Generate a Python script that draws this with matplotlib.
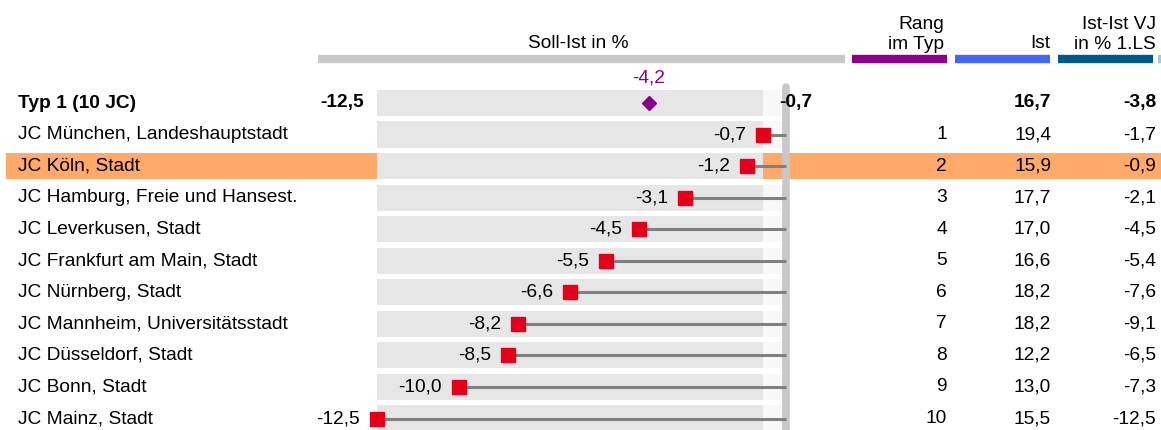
import matplotlib.pyplot as plt
from matplotlib.transforms import blended_transform_factory

plt.rcParams['font.family'] = ['Liberation Sans', 'DejaVu Sans']

# --- data ---
names = ["JC München, Landeshauptstadt", "JC Köln, Stadt", "JC Hamburg, Freie und Hansest.",
         "JC Leverkusen, Stadt", "JC Frankfurt am Main, Stadt", "JC Nürnberg, Stadt",
         "JC Mannheim, Universitätsstadt", "JC Düsseldorf, Stadt", "JC Bonn, Stadt", "JC Mainz, Stadt"]
soll_ist = [-0.7, -1.2, -3.1, -4.5, -5.5, -6.6, -8.2, -8.5, -10.0, -12.5]
rang = [1, 2, 3, 4, 5, 6, 7, 8, 9, 10]
ist = [19.4, 15.9, 17.7, 17.0, 16.6, 18.2, 18.2, 12.2, 13.0, 15.5]
ist_vj = [-1.7, -0.9, -2.1, -4.5, -5.4, -7.6, -9.1, -6.5, -7.3, -12.5]
highlight = "JC Köln, Stadt"

typ_label = "Typ 1 (10 JC)"
typ_avg = -4.2
typ_ist = 16.7
typ_vj = -3.8

headers = ["Soll-Ist in %", "Rang\nim Typ", "Ist", "Ist-Ist VJ\nin % 1.LS"]

def fmt(v):
    return f"{v:.1f}".replace(".", ",")

W, H = 1161, 430
PX = 32.7       # pixel per Prozentpunkt
X0 = 786        # Pixelposition der Null
ROW = 31.55
Y0 = 103

fig = plt.figure(figsize=(W / 100, H / 100), dpi=100)
ax = fig.add_axes([0, 0, 1, 1])
ax.set_xlim(-X0 / PX, (W - X0) / PX)
ax.set_ylim((H - Y0) / ROW, -Y0 / ROW)
ax.axis('off')

tr = blended_transform_factory(ax.transAxes, ax.transData)
fx = lambda px: px / W

vmin, vmax = min(soll_ist), max(soll_ist)
n = len(names)
FS = 13.8

# Zeilen: 0 = Typ, 1..n = JC
for i in range(n + 1):
    y = i
    hl = i > 0 and names[i - 1] == highlight
    if hl:
        ax.axhspan(y - 0.42, y + 0.42, xmin=fx(6), xmax=1, color='#ffa96b', zorder=0, lw=0)
    ax.barh(y, vmax - vmin, left=vmin, height=0.83, color='#e6e6e6', zorder=1, lw=0)
    if not hl:
        ax.barh(y, 0 - vmax, left=vmax, height=0.83, color='#f8f8f8', zorder=1, lw=0)

# Nulllinie
ax.plot([0, 0], [-0.52, n + 1], color='#c8c8c8', lw=5.5, solid_capstyle='round', zorder=2)

# Typ-Zeile
ax.text(fx(18), 0, typ_label, transform=tr, ha='left', va='center', fontsize=FS, fontweight='bold')
ax.text(vmin - 0.4, 0, fmt(vmin), ha='right', va='center', fontsize=FS, fontweight='bold')
ax.text(vmax + 0.5, 0, fmt(vmax), ha='left', va='center', fontsize=FS, fontweight='bold', zorder=5)
ax.plot([typ_avg], [0], marker='D', color='#8b008b', ms=7, zorder=4)
ax.text(typ_avg, -0.8, fmt(typ_avg), ha='center', va='center', fontsize=FS, color='#8b008b')
ax.text(fx(1051), 0, fmt(typ_ist), transform=tr, ha='right', va='center', fontsize=FS, fontweight='bold')
ax.text(fx(1156), 0, fmt(typ_vj), transform=tr, ha='right', va='center', fontsize=FS, fontweight='bold')

# JC-Zeilen
for i in range(n):
    y = i + 1
    v = soll_ist[i]
    ax.plot([v, 0], [y, y], color='#808080', lw=2.2, zorder=3, solid_capstyle='butt')
    ax.plot([v], [y], marker='s', color='#e2001a', ms=9.4, zorder=4, ls='none')
    ax.text(v - 0.52, y, fmt(v), ha='right', va='center', fontsize=FS, zorder=5)
    ax.text(fx(18), y, names[i], transform=tr, ha='left', va='center', fontsize=FS)
    ax.text(fx(947), y, str(rang[i]), transform=tr, ha='right', va='center', fontsize=FS)
    ax.text(fx(1051), y, fmt(ist[i]), transform=tr, ha='right', va='center', fontsize=FS)
    ax.text(fx(1156), y, fmt(ist_vj[i]), transform=tr, ha='right', va='center', fontsize=FS)

# Kopfzeile
yb = (59 - Y0) / ROW
yh = (43 - Y0) / ROW
bars = [(318, 845, '#c8c8c8'), (852, 947, '#8b008b'), (955, 1050, '#4466ff'),
        (1058, 1153, '#005a87'), (1158, 1175, '#8fd0e8')]
for x1, x2, c in bars:
    ax.plot([fx(x1), fx(x2)], [yb, yb], transform=tr, color=c, lw=6, solid_capstyle='butt')

ax.text(fx(578), yh, headers[0], transform=tr, ha='center', va='center', fontsize=FS)
ax.text(fx(944), yh + 0.32, headers[1], transform=tr, ha='right', va='bottom', fontsize=FS,
        linespacing=1.2)
ax.text(fx(1050), yh, headers[2], transform=tr, ha='right', va='center', fontsize=FS)
ax.text(fx(1156), yh + 0.32, headers[3], transform=tr, ha='right', va='bottom', fontsize=FS,
        linespacing=1.2)

fig.savefig('out.png', dpi=100)
